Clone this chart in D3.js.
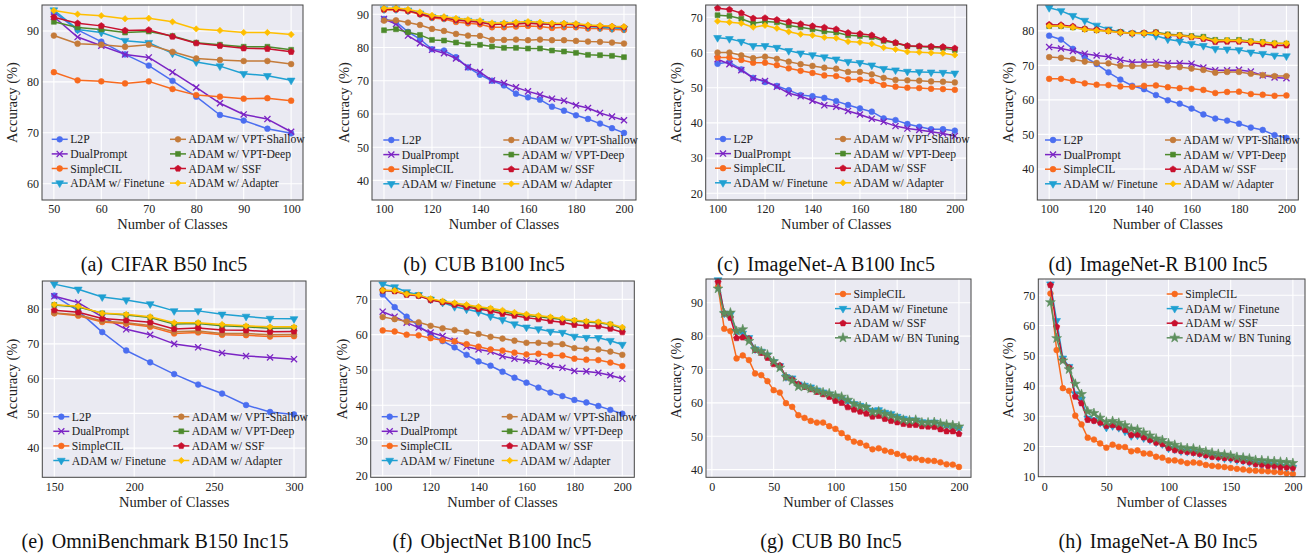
<!DOCTYPE html>
<html><head><meta charset="utf-8">
<script src="https://cdn.jsdelivr.net/npm/d3@7"></script>
<style>
html,body{margin:0;padding:0;background:#fff;}
svg{display:block;font-family:"Liberation Serif","Times New Roman",serif;}
</style></head>
<body><svg id="c" width="1306" height="554"></svg>
<script>
// ---------------- DATA ----------------
const cifarX = [50,55,60,65,70,75,80,85,90,95,100];
const cifarL2P      = [93.7,90.2,87.9,85.4,83.2,80.2,77.1,73.5,72.4,70.8,69.9];
const cifarDual     = [92.8,88.8,87.1,85.4,84.8,81.9,78.9,75.8,73.6,72.7,70.2];
const cifarSimple   = [81.9,80.3,80.1,79.7,80.1,78.6,77.4,77.1,76.7,76.8,76.3];
const cifarFinetune = [94.1,90.3,89.7,88.1,87.7,85.6,83.9,83.1,81.6,81.2,80.3];
const cifarShallow  = [89.1,87.5,87.3,86.9,87.3,85.9,84.6,84.3,84.1,84.1,83.5];
const cifarDeep     = [91.8,90.7,90.3,89.7,89.9,89.0,87.7,87.3,86.9,86.9,86.3];
const cifarSSF      = [92.7,91.5,91.0,90.1,90.2,88.9,87.6,87.1,86.6,86.5,85.9];
const cifarAdapter  = [94.0,93.3,93.0,92.4,92.5,91.8,90.4,90.1,89.7,89.7,89.3];

const x100 = [100,105,110,115,120,125,130,135,140,145,150,155,160,165,170,175,180,185,190,195,200];
const cubL2P      = [88.6,87.7,84.7,82.5,79.5,79.1,77.1,74.0,71.8,70.0,68.6,66.1,65.0,64.3,62.2,61.0,59.6,58.5,57.1,55.7,54.3];
const cubDual     = [88.6,87.1,83.6,81.3,79.3,78.3,76.7,74.1,72.6,70.1,69.3,68.0,66.8,65.8,64.6,64.0,62.6,61.8,60.3,59.2,58.1];
const cubSimple   = [91.3,91.4,90.9,90.0,88.9,88.6,87.7,87.3,87.0,86.1,86.1,86.3,86.5,86.3,85.9,86.1,86.1,85.7,85.7,85.5,85.3];
const cubFinetune = [91.6,91.6,91.2,90.3,89.3,89.0,88.5,88.1,87.8,87.1,87.1,87.3,87.5,87.2,86.9,87.0,86.8,86.3,86.1,85.9,85.7];
const cubShallow  = [88.1,88.2,87.5,86.8,85.6,85.0,84.1,83.6,83.5,82.3,82.3,82.4,82.2,82.4,82.2,82.2,82.0,81.8,81.7,81.5,81.2];
const cubDeep     = [85.2,85.5,84.6,83.8,82.3,82.1,81.5,81.0,80.8,80.3,79.9,79.9,79.7,79.7,79.1,78.8,78.4,77.8,77.7,77.5,77.1];
const cubSSF      = [91.5,91.5,91.1,90.1,89.2,88.9,88.3,87.9,87.6,86.9,87.1,87.1,87.3,87.1,87.0,87.1,86.9,86.5,86.4,86.3,86.1];
const cubAdapter  = [91.8,91.9,91.5,90.7,89.7,89.3,88.8,88.4,88.1,87.4,87.4,87.6,87.8,87.6,87.3,87.3,87.2,86.8,86.6,86.4,86.3];

const inaL2P      = [56.8,57.3,55.2,52.8,51.6,50.5,49.3,47.9,47.6,47.1,46.2,45.1,44.1,43.2,41.3,40.8,39.7,38.9,38.2,38.2,37.8];
const inaDual     = [58.1,56.7,55.0,52.7,51.9,50.3,48.4,47.6,46.3,45.0,44.6,43.4,42.4,41.2,40.3,39.1,38.4,38.0,37.5,37.0,36.3];
const inaSimple   = [58.6,58.6,57.9,57.1,57.1,56.4,55.5,54.8,54.2,53.5,53.3,52.4,52.3,51.9,50.8,50.3,50.0,49.9,49.7,49.6,49.4];
const inaFinetune = [64.2,63.9,63.1,61.9,61.9,61.4,60.5,59.8,59.3,58.7,58.1,57.4,57.1,56.4,55.4,55.0,54.6,54.5,54.4,54.3,54.1];
const inaShallow  = [60.0,60.0,59.2,58.4,58.8,58.2,57.4,56.7,56.2,55.7,55.4,54.5,54.5,53.8,52.8,52.2,52.1,52.0,51.8,51.7,51.5];
const inaDeep     = [70.6,70.4,69.6,68.3,68.8,68.6,67.7,67.2,66.6,66.0,65.7,64.9,64.7,64.4,63.3,62.7,61.8,61.7,61.5,61.3,60.7];
const inaSSF      = [72.6,72.2,71.2,69.7,69.8,69.3,68.7,68.1,67.5,67.1,66.6,65.6,65.3,64.9,63.6,62.8,61.9,61.8,61.7,61.6,61.2];
const inaAdapter  = [68.9,68.6,68.3,67.2,67.7,66.9,65.9,65.2,64.9,64.3,64.1,63.1,62.9,62.5,61.4,60.9,60.2,60.1,59.9,59.8,59.3];

const inrL2P      = [78.6,77.5,74.8,72.4,70.4,68.0,65.9,64.1,63.1,61.4,59.9,58.9,57.5,55.8,54.6,54.0,53.1,52.0,51.3,49.8,49.0];
const inrDual     = [75.3,74.9,74.2,73.4,72.9,72.5,71.6,70.9,71.0,71.0,70.6,70.6,70.5,69.4,68.6,68.6,68.7,68.2,67.1,66.5,66.3];
const inrSimple   = [66.1,66.1,65.5,64.8,64.4,64.3,63.9,63.8,64.1,64.2,63.7,63.4,63.2,62.9,62.0,62.3,62.4,61.7,61.5,61.2,61.3];
const inrFinetune = [86.7,85.8,84.4,83.0,81.6,80.5,79.6,79.3,79.2,78.6,77.6,77.0,76.3,75.7,74.8,74.7,74.5,73.8,73.4,72.9,72.7];
const inrShallow  = [72.4,72.2,71.8,71.1,70.7,70.6,69.9,69.8,69.9,70.1,69.6,69.5,69.1,68.7,67.9,68.1,68.1,67.6,67.2,66.9,66.9];
const inrDeep     = [81.4,81.4,81.0,80.5,80.2,80.0,79.7,79.3,79.4,79.6,79.0,78.8,78.5,78.3,77.4,77.3,77.4,77.0,76.8,76.4,76.3];
const inrSSF      = [81.8,81.7,81.3,80.6,80.3,80.0,79.6,79.3,79.4,79.5,78.7,78.6,78.2,77.7,76.8,76.9,76.9,76.6,76.2,75.8,75.8];
const inrAdapter  = [81.4,81.4,81.0,80.4,80.1,79.9,79.5,79.3,79.3,79.4,78.8,78.7,78.3,78.0,77.2,77.3,77.2,76.9,76.7,76.4,76.4];

const omniX = [150,165,180,195,210,225,240,255,270,285,300];
const omniL2P      = [83.9,79.5,73.4,68.1,64.7,61.3,58.3,55.7,52.4,50.4,49.7];
const omniDual     = [83.7,81.9,77.8,74.2,72.6,70.0,69.0,67.4,66.5,66.1,65.6];
const omniSimple   = [78.8,78.1,76.3,75.8,74.9,73.0,73.3,72.6,72.5,72.1,72.2];
const omniFinetune = [87.2,85.7,83.5,82.6,81.5,79.5,79.5,78.5,77.9,77.3,77.2];
const omniShallow  = [78.9,78.4,76.6,76.1,75.3,73.5,73.7,73.0,73.0,72.6,72.7];
const omniDeep     = [81.2,80.6,78.8,78.3,77.6,75.7,75.9,75.2,74.9,74.5,74.6];
const omniSSF      = [79.7,79.1,77.3,76.8,76.2,74.3,74.6,74.0,73.9,73.5,73.6];
const omniAdapter  = [81.3,80.8,78.8,78.5,77.8,76.1,76.1,75.6,75.2,74.9,74.9];

const objL2P      = [71.4,67.8,65.1,62.5,60.1,58.2,56.4,54.3,52.4,51.2,49.5,47.8,46.4,45.0,43.6,42.6,41.5,40.8,39.8,38.7,37.6];
const objDual     = [66.5,65.1,63.4,62.0,60.6,59.6,58.3,56.6,55.8,55.2,53.9,53.2,52.7,52.3,51.1,50.6,49.7,49.6,49.2,48.5,47.5];
const objSimple   = [61.2,60.9,60.0,59.8,59.0,58.4,58.1,57.3,56.6,55.8,55.5,54.9,54.4,54.6,54.2,54.1,53.2,52.9,52.8,52.1,51.1];
const objFinetune = [74.3,73.5,72.1,71.3,70.0,69.1,67.9,67.2,66.4,65.2,64.2,63.0,62.1,61.6,60.9,60.6,59.5,59.2,59.1,58.3,57.2];
const objShallow  = [65.0,64.4,63.7,63.5,62.5,61.8,61.3,60.8,60.2,59.4,58.9,58.3,57.7,57.7,57.4,57.3,56.2,56.0,55.8,55.2,54.3];
const objDeep     = [72.5,72.4,71.5,71.1,70.0,69.3,68.7,68.1,67.6,67.2,66.5,65.9,65.4,65.1,64.7,64.3,63.9,63.6,63.4,62.9,61.7];
const objSSF      = [72.5,72.3,71.3,71.0,69.8,69.2,68.5,67.8,67.3,66.7,65.9,65.4,64.8,64.4,63.9,63.5,62.8,62.5,62.4,61.7,60.7];
const objAdapter  = [72.6,72.5,71.5,71.2,70.2,69.5,69.0,68.5,67.9,67.5,66.9,66.3,65.8,65.4,65.0,64.6,64.1,63.8,63.6,63.0,62.1];

const b0X = [5,10,15,20,25,30,35,40,45,50,55,60,65,70,75,80,85,90,95,100,105,110,115,120,125,130,135,140,145,150,155,160,165,170,175,180,185,190,195,200];
const cub0Simple   = [94.8,82.2,81.5,73.3,74.2,72.8,68.8,68.3,66.5,63.8,63.1,59.9,58.8,56.3,55.5,54.6,54.1,54.1,53.0,52.2,50.9,49.6,48.4,48.0,47.2,46.1,46.4,45.7,45.3,44.7,44.2,43.4,43.4,42.9,42.7,42.6,42.2,41.6,41.5,40.8];
const cub0Finetune = [96.8,86.8,86.5,81.3,80.8,79.5,76.1,75.4,74.3,72.3,71.1,67.8,67.4,65.6,65.2,64.7,63.8,63.2,62.6,61.9,61.1,60.4,59.7,59.2,58.7,57.7,57.9,57.1,56.7,55.9,55.3,54.9,54.8,54.3,54.1,54.2,53.5,53.0,52.7,52.2];
const cub0SSF      = [96.2,86.8,85.5,79.4,79.6,79.2,75.9,75.0,73.5,71.6,71.2,67.7,67.0,65.6,64.8,64.1,63.3,62.6,61.8,60.6,60.0,58.7,58.0,57.4,56.8,55.9,56.1,55.2,54.6,54.2,53.7,53.4,53.4,53.0,52.9,52.8,52.1,51.5,51.5,50.7];
const cub0BN       = [94.2,86.8,87.0,81.5,82.0,78.5,76.0,75.4,74.4,72.4,70.5,67.7,66.6,64.9,64.9,64.3,63.7,63.1,62.8,62.2,61.8,60.9,59.7,59.0,58.7,57.2,57.4,56.7,56.2,55.5,54.9,54.7,54.9,54.1,54.1,54.2,53.8,53.5,53.3,52.9];

const ina0Simple   = [70.6,51.9,39.3,38.4,30.2,27.3,22.9,22.3,21.0,19.6,20.6,19.9,19.8,18.4,18.7,17.7,17.6,16.6,16.3,15.4,15.4,15.0,14.5,14.7,14.5,13.9,13.6,13.4,13.2,12.9,12.6,12.4,12.1,12.0,11.9,11.8,11.6,11.5,11.1,10.9];
const ina0Finetune = [73.7,61.6,49.2,46.4,37.4,35.6,29.3,28.8,27.9,26.3,26.8,26.2,25.0,23.5,23.7,22.8,22.2,21.4,20.8,19.4,19.1,18.5,18.3,18.1,17.7,17.1,16.9,16.4,16.1,15.9,15.5,15.3,14.8,14.4,14.2,14.0,13.8,13.5,13.2,13.0];
const ina0SSF      = [73.4,59.6,48.6,46.1,36.5,34.3,28.8,28.5,27.9,26.8,27.1,26.3,25.5,23.8,23.9,23.0,22.2,21.3,20.8,19.5,18.8,18.5,18.2,17.9,17.6,17.1,16.6,16.4,16.2,16.1,15.6,15.2,14.8,14.2,14.0,13.6,13.6,13.2,13.1,12.9];
const ina0BN       = [67.7,55.8,48.4,45.5,40.7,37.3,31.6,31.0,29.5,28.1,28.4,27.8,27.0,25.9,25.6,24.6,23.6,22.6,22.1,21.0,20.5,19.7,19.4,19.3,18.8,18.3,17.9,17.5,17.3,17.0,16.5,16.3,16.0,15.5,15.4,15.2,15.1,14.9,14.8,14.5];

const methodNames8 = ["L2P","DualPrompt","SimpleCIL","ADAM w/ Finetune","ADAM w/ VPT-Shallow","ADAM w/ VPT-Deep","ADAM w/ SSF","ADAM w/ Adapter"];
const methodNames4 = ["SimpleCIL","ADAM w/ Finetune","ADAM w/ SSF","ADAM w/ BN Tuning"];
const captions = ["(a)","CIFAR B50 Inc5","(b)","CUB B100 Inc5","(c)","ImageNet-A B100 Inc5","(d)","ImageNet-R B100 Inc5",
                  "(e)","OmniBenchmark B150 Inc15","(f)","ObjectNet B100 Inc5","(g)","CUB B0 Inc5","(h)","ImageNet-A B0 Inc5"];
const ticks100 = [100,120,140,160,180,200];
const ticksB0 = [0,50,100,150,200];

// ---------------- STYLES ----------------
const pentagon = {draw(ctx,size){const r=Math.sqrt(size/2.378);for(let k=0;k<5;k++){const a=-Math.PI/2+k*2*Math.PI/5;const x=r*Math.cos(a),y=r*Math.sin(a);k?ctx.lineTo(x,y):ctx.moveTo(x,y);}ctx.closePath();}};
const style = {
 "L2P":{c:"#4B6EF0",sym:d3.symbolCircle,size:26},
 "DualPrompt":{c:"#7B24C4",sym:d3.symbolTimes,size:26,stroke:true},
 "SimpleCIL":{c:"#F86A1E",sym:d3.symbolCircle,size:26},
 "ADAM w/ Finetune":{c:"#1FA0D2",sym:d3.symbolTriangle,size:26,rot:180},
 "ADAM w/ VPT-Shallow":{c:"#C47B3A",sym:d3.symbolCircle,size:26},
 "ADAM w/ VPT-Deep":{c:"#4D8A2C",sym:d3.symbolSquare,size:24},
 "ADAM w/ SSF":{c:"#C8102E",sym:pentagon,size:26},
 "ADAM w/ Adapter":{c:"#FFBF00",sym:d3.symbolSquare,size:20,rot:45},
 "ADAM w/ BN Tuning":{c:"#5D8F5E",sym:d3.symbolStar,size:30}
};

const panels = [
 {L:42,T:5,R:303,B:200,xd:[47.5,102.5],yd:[56.8,95.1],xt:[50,60,70,80,90,100],yt:[60,70,80,90],xs:cifarX,
  ser:[cifarL2P,cifarDual,cifarSimple,cifarFinetune,cifarShallow,cifarDeep,cifarSSF,cifarAdapter],names:methodNames8,
  leg:{x1:51.7,x2:170,y:139.3},cap:0,cx:164,yl:25},
 {L:372,T:5,R:636,B:200,xd:[95,205],yd:[34.1,92.8],xt:ticks100,yt:[40,50,60,70,80,90],xs:x100,
  ser:[cubL2P,cubDual,cubSimple,cubFinetune,cubShallow,cubDeep,cubSSF,cubAdapter],names:methodNames8,
  leg:{x1:383.3,x2:503.3,y:140},cap:1,cx:484,yl:23},
 {L:705.7,T:5,R:966.7,B:200,xd:[95,205],yd:[18.1,73.5],xt:ticks100,yt:[20,30,40,50,60,70],xs:x100,
  ser:[inaL2P,inaDual,inaSimple,inaFinetune,inaShallow,inaDeep,inaSSF,inaAdapter],names:methodNames8,
  leg:{x1:715,x2:835,y:139},cap:2,cx:826,yl:25},
 {L:1037.3,T:5,R:1298.3,B:200,xd:[95,205],yd:[31.0,87.5],xt:ticks100,yt:[40,50,60,70,80],xs:x100,
  ser:[inrL2P,inrDual,inrSimple,inrFinetune,inrShallow,inrDeep,inrSSF,inrAdapter],names:methodNames8,
  leg:{x1:1045,x2:1165,y:140},cap:3,cx:1158,yl:24},
 {L:42.3,T:281,R:306,B:477.3,xd:[142.5,307.5],yd:[31.6,88.1],xt:[150,200,250,300],yt:[40,50,60,70,80],xs:omniX,
  ser:[omniL2P,omniDual,omniSimple,omniFinetune,omniShallow,omniDeep,omniSSF,omniAdapter],names:methodNames8,
  leg:{x1:53.3,x2:173.3,y:416.7},cap:4,cx:155,yl:25},
 {L:370.7,T:281,R:634.3,B:477.3,xd:[95,205],yd:[19.6,75.2],xt:ticks100,yt:[20,30,40,50,60,70],xs:x100,
  ser:[objL2P,objDual,objSimple,objFinetune,objShallow,objDeep,objSSF,objAdapter],names:methodNames8,
  leg:{x1:381.7,x2:501.7,y:416.7},cap:5,cx:492,yl:24},
 {L:706,T:279,R:971,B:477.3,xd:[-4.75,209.75],yd:[37.7,97.1],xt:ticksB0,yt:[40,50,60,70,80,90],xs:b0X,
  ser:[cub0Simple,cub0Finetune,cub0SSF,cub0BN],names:methodNames4,
  leg:{x1:835,y:294},cap:6,cx:831,yl:25},
 {L:1038.3,T:279,R:1305,B:476.7,xd:[-4.75,209.75],yd:[10,75.4],xt:ticksB0,yt:[10,20,30,40,50,60,70],xs:b0X,
  ser:[ina0Simple,ina0Finetune,ina0SSF,ina0BN],names:methodNames4,
  leg:{x1:1166.7,y:294},cap:7,cx:1158,yl:25}
];

const svg = d3.select("#c");
const FONT_TICK = 12, FONT_LEG = 11.7, FONT_AX = 14.5, FONT_CAP = 20;

function marker(sel, name){
  const s = style[name];
  const p = d3.symbol().type(s.sym).size(s.size)();
  sel.attr("d", p)
     .attr("fill", s.stroke ? "none" : s.c)
     .attr("stroke", s.c)
     .attr("stroke-width", s.stroke ? 1.3 : 0.6);
}

panels.forEach((P, pi) => {
  const g = svg.append("g");
  const x = d3.scaleLinear().domain(P.xd).range([P.L, P.R]);
  const y = d3.scaleLinear().domain(P.yd).range([P.B, P.T]);

  g.append("rect").attr("x",P.L).attr("y",P.T).attr("width",P.R-P.L).attr("height",P.B-P.T).attr("fill","#EAEAF2");

  // grid
  g.append("g").selectAll("line.v").data(P.xt).join("line")
    .attr("x1",d=>x(d)).attr("x2",d=>x(d)).attr("y1",P.T).attr("y2",P.B)
    .attr("stroke","#fff").attr("stroke-width",1.1);
  g.append("g").selectAll("line.h").data(P.yt).join("line")
    .attr("x1",P.L).attr("x2",P.R).attr("y1",d=>y(d)).attr("y2",d=>y(d))
    .attr("stroke","#fff").attr("stroke-width",1.1);

  // axes (labels only)
  const ax = g.append("g").attr("transform",`translate(0,${P.B})`)
    .call(d3.axisBottom(x).tickValues(P.xt).tickSize(0).tickPadding(pi<4?4.8:5.5).tickFormat(d3.format("d")));
  const ay = g.append("g").attr("transform",`translate(${P.L},0)`)
    .call(d3.axisLeft(y).tickValues(P.yt).tickSize(0).tickPadding(3).tickFormat(d3.format("d")));
  [ax,ay].forEach(a=>{a.select(".domain").remove();
    a.selectAll("text").attr("font-size",FONT_TICK).attr("fill","#222").attr("font-family",'"Liberation Serif","Times New Roman",serif');});

  // series
  P.ser.forEach((vals, si) => {
    const name = P.names[si];
    const s = style[name];
    const pts = vals.map((v,i)=>[P.xs[i], v]);
    g.append("path").datum(pts)
      .attr("d", d3.line().x(d=>x(d[0])).y(d=>y(d[1])))
      .attr("fill","none").attr("stroke",s.c).attr("stroke-width",1.5).attr("stroke-linejoin","round");
    g.append("g").selectAll("path").data(pts).join("path")
      .attr("transform", d=>`translate(${x(d[0])},${y(d[1])}) rotate(${s.rot||0})`)
      .call(marker, name);
  });

  // frame
  g.append("rect").attr("x",P.L).attr("y",P.T).attr("width",P.R-P.L).attr("height",P.B-P.T)
    .attr("fill","none").attr("stroke","#444").attr("stroke-width",1);

  // legend
  const lg = g.append("g");
  P.names.forEach((name, i) => {
    const col = P.names.length === 8 ? Math.floor(i/4) : 0;
    const row = P.names.length === 8 ? i % 4 : i;
    const lx = col === 0 ? P.leg.x1 : P.leg.x2;
    const ly = P.leg.y + row*14.6;
    const s = style[name];
    lg.append("line").attr("x1",lx).attr("x2",lx+16).attr("y1",ly).attr("y2",ly)
      .attr("stroke",s.c).attr("stroke-width",1.5);
    lg.append("path").attr("transform",`translate(${lx+8},${ly}) rotate(${s.rot||0})`).call(marker,name);
    lg.append("text").attr("x",lx+18.5).attr("y",ly).attr("dy","0.35em")
      .attr("font-size",FONT_LEG).attr("fill","#222").text(name);
  });

  // axis titles
  g.append("text").attr("x",(P.L+P.R)/2).attr("y",P.B+(pi<4?29:30))
    .attr("text-anchor","middle").attr("font-size",FONT_AX).attr("fill","#222").text("Number of Classes");
  g.append("text").attr("transform",`translate(${P.L-P.yl},${(P.T+P.B)/2}) rotate(-90)`)
    .attr("text-anchor","middle").attr("font-size",FONT_AX).attr("fill","#222").text("Accuracy (%)");

  // caption
  const cap = g.append("text").attr("x",P.cx).attr("y",pi<4?271:548)
    .attr("text-anchor","middle").attr("font-size",FONT_CAP).attr("fill","#111");
  cap.append("tspan").text(captions[P.cap*2]);
  cap.append("tspan").attr("dx",8).text(captions[P.cap*2+1]);
});
</script></body></html>
